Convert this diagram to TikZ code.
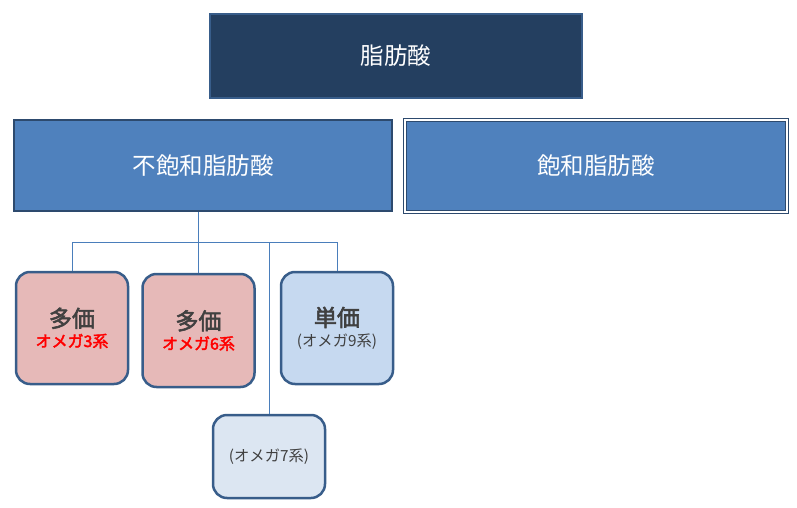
\documentclass[tikz,border=0pt]{standalone}
\usepackage{fontspec}
\newfontfamily\cjk{Noto Sans CJK JP}
\newfontfamily\cjkb{Noto Sans CJK JP}[FakeBold=2.5]
\definecolor{navy}{HTML}{243F60}
\definecolor{mid}{HTML}{4F81BD}
\definecolor{edge}{HTML}{385D8A}
\definecolor{pinkf}{HTML}{E6B9B8}
\definecolor{bluef}{HTML}{C6D9F0}
\definecolor{palef}{HTML}{DCE6F2}
\definecolor{txt}{HTML}{404040}
\definecolor{lnk}{HTML}{4A7EBB}
\begin{document}
\begin{tikzpicture}[x=1pt,y=-1pt,
  rootbox/.style={draw=edge,line width=2pt,fill=navy,text=white,font=\cjk\fontsize{23.5}{26}\selectfont},
  catbox/.style={draw=edge!80!black,line width=2pt,fill=mid,text=white,font=\cjk\fontsize{23.5}{26}\selectfont},
  leaf/.style={draw=edge,line width=2.5pt,rounded corners=14pt,text=txt,align=center,font=\fontsize{14}{20}\selectfont},
  link/.style={draw=lnk,line width=0.8pt}]
\useasboundingbox (0,0) rectangle (797,508);
\node[rootbox,minimum width=372pt,minimum height=84pt] (root) at (396,56) {脂肪酸};
\node[catbox,minimum width=378pt,minimum height=91pt] (uns) at (203,165.5) {不飽和脂肪酸};
\node[catbox,minimum width=382pt,minimum height=92pt,double=white,double distance=1.2pt,line width=1.2pt] (sat) at (596,166) {飽和脂肪酸};
\node[leaf,fill=pinkf,minimum width=112pt,minimum height=112pt] (p3) at (72,328)
  {{\cjkb\fontsize{23}{24}\selectfont 多価}\\{\cjkb\color{red}\fontsize{16}{16}\selectfont オメガ3系}};
\node[leaf,fill=pinkf,minimum width=112pt,minimum height=113pt] (p6) at (198.5,330.5)
  {{\cjkb\fontsize{23}{24}\selectfont 多価}\\{\cjkb\color{red}\fontsize{16}{16}\selectfont オメガ6系}};
\node[leaf,fill=bluef,minimum width=112pt,minimum height=112pt] (m9) at (337,328)
  {{\cjkb\fontsize{23}{24}\selectfont 単価}\\{\cjk\fontsize{15.3}{16}\selectfont (オメガ9系)}};
\node[leaf,fill=palef,minimum width=112pt,minimum height=83pt,font=\cjk\fontsize{15.3}{16}\selectfont] (o7) at (269,456.5) {(オメガ7系)};
\coordinate (hub) at (p6.north |- 0,242);
\draw[link] (uns.south -| hub) -- (hub);
\draw[link] (p3.north) -- (p3.north |- hub) -- (m9.north |- hub) -- (m9.north);
\draw[link] (hub) -- (p6.north);
\draw[link] (o7.north |- hub) -- (o7.north);
\end{tikzpicture}
\end{document}
